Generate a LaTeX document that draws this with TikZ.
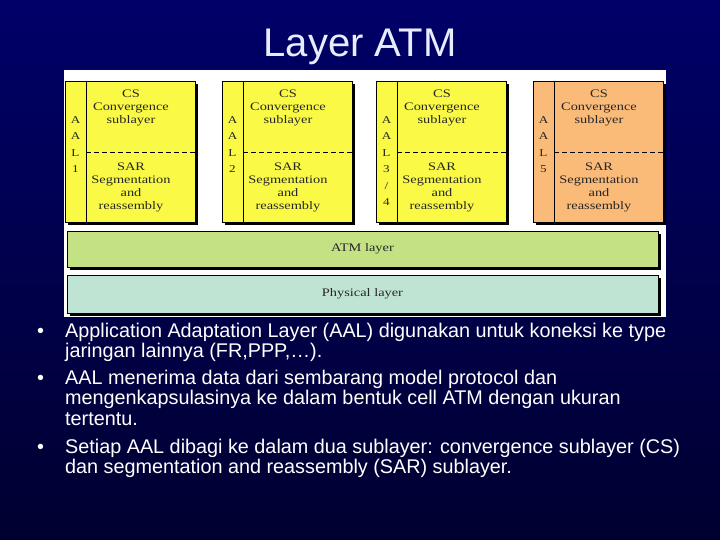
\documentclass[tikz,border=0pt]{standalone}
\usepackage{fontspec}
\setmainfont{Liberation Sans}
\newfontfamily\boxfont[FakeStretch=1.25]{Liberation Serif}
\definecolor{bgtop}{RGB}{0,0,104}
\definecolor{bgbot}{RGB}{0,0,48}
\definecolor{aalyellow}{RGB}{250,250,70}
\definecolor{aalorange}{RGB}{250,186,120}
\definecolor{atmgreen}{RGB}{196,226,132}
\definecolor{phyteal}{RGB}{192,228,212}
\definecolor{titlecol}{RGB}{232,236,255}
\tikzset{
  shadowbox/.style={fill=black},
  layerbox/.style={draw=black, line width=0.8pt},
  boxtext/.style={font=\boxfont\fontsize{11.5}{13}\selectfont, align=center, inner sep=0pt, text=black!85},
  aaltext/.style={font=\boxfont\fontsize{10.5}{16.5}\selectfont, align=center, inner sep=0pt, text=black!85, anchor=north},
  bullettext/.style={font=\fontsize{19.8}{20.5}\selectfont, text=white, align=left, anchor=base west, inner sep=0pt},
  titletext/.style={font=\fontsize{40}{42}\selectfont, text=titlecol}
}

\begin{document}
\begin{tikzpicture}[x=1pt,y=-1pt]
\shade[top color=bgtop, bottom color=bgbot] (0,0) rectangle (720,540);
\useasboundingbox (0,0) rectangle (720,540);
\node[titletext] (title) at (360,47) {Layer ATM};
\fill[white] (64,70) rectangle (666,317);
\foreach \L/\n/\lab/\col in {65/1/{A\\A\\L\\1}/aalyellow, 222/2/{A\\A\\L\\2}/aalyellow, 376/3/{A\\A\\L\\3\\/\\4}/aalyellow, 533/5/{A\\A\\L\\5}/aalorange}{
  \fill[shadowbox] (\L+3,84) rectangle (\L+133,225);
  \filldraw[layerbox, fill=\col] (\L,81) rectangle (\L+130,222);
  \draw[layerbox] (\L+21,81) -- (\L+21,222);
  \draw[dash pattern=on 5pt off 3pt, line width=0.6pt] (\L+21,152) -- (\L+130,152);
  \node[aaltext] (col\n) at (\L+10.5,116) {\lab};
  \node[boxtext] (cs\n) at (\L+66,108) {CS\\Convergence\\sublayer};
  \node[boxtext] (sar\n) at (\L+66,187) {SAR\\Segmentation\\and\\reassembly};
}
\fill[shadowbox] (70,234) rectangle (661,270);
\filldraw[layerbox, fill=atmgreen] (67,231) rectangle (658,267);
\node[boxtext] (atm) at (362.5,249) {ATM layer};
\fill[shadowbox] (70,278) rectangle (661,316);
\filldraw[layerbox, fill=phyteal] (67,275) rectangle (658,313);
\node[boxtext] (phy) at (362.5,294) {Physical layer};
\node[bullettext] (dot1) at (37,337) {•};
\node[bullettext] (item1) at (65,357.5) {Application Adaptation Layer (AAL) digunakan untuk koneksi ke type\\jaringan lainnya (FR,PPP,…).};
\node[bullettext] (dot2) at (37,384) {•};
\node[bullettext] (item2) at (65,425) {AAL menerima data dari sembarang model protocol dan\\mengenkapsulasinya ke dalam bentuk cell ATM dengan ukuran\\tertentu.};
\node[bullettext] (dot3) at (37,453) {•};
\node[bullettext] (item3) at (65,473.5) {Setiap AAL dibagi ke dalam dua sublayer: convergence sublayer (CS)\\dan segmentation and reassembly (SAR) sublayer.};
\end{tikzpicture}
\end{document}
